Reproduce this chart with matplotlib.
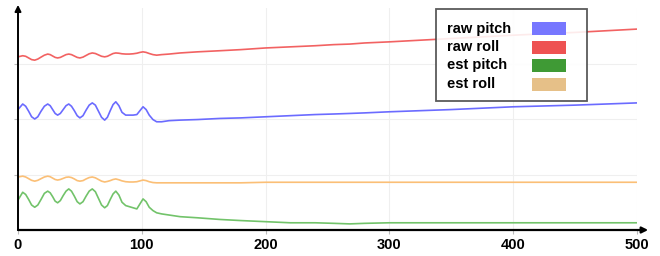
import matplotlib.pyplot as plt
from matplotlib.patches import Rectangle

# sample index (shared by all four series)
x = [0, 3.8, 6.2, 8.6, 11, 13.5, 16, 18.6, 21.3, 24,
     26, 28, 30, 32, 34.2, 36.5, 38.8, 41, 43.2, 45.5,
     47.8, 50, 52.5, 55, 57.5, 60, 62.5, 65, 67.5, 70,
     72.2, 74.5, 76.8, 79, 81.5, 84, 87, 90, 93, 96,
     98.5, 101, 103.5, 106, 109, 112, 116, 122, 131, 145,
     163, 180, 200, 220, 240, 255, 268, 280, 300, 350,
     400, 450, 500]

raw_pitch = [2.17, 2.27, 2.23, 2.14, 2.04, 2.00, 2.04, 2.14, 2.23, 2.27,
             2.24, 2.17, 2.10, 2.07, 2.10, 2.17, 2.24, 2.27, 2.23, 2.15,
             2.06, 2.02, 2.06, 2.16, 2.25, 2.29, 2.25, 2.14, 2.03, 1.98,
             2.03, 2.15, 2.26, 2.31, 2.24, 2.12, 2.07, 2.07, 2.07, 2.08,
             2.15, 2.22, 2.17, 2.07, 1.99, 1.95, 1.95, 1.97, 1.98, 1.99,
             2.01, 2.02, 2.04, 2.06, 2.08, 2.09, 2.10, 2.11, 2.13, 2.17,
             2.22, 2.25, 2.29]

raw_roll = [3.12, 3.14, 3.13, 3.10, 3.07, 3.06, 3.08, 3.115, 3.15, 3.17,
            3.16, 3.135, 3.11, 3.10, 3.11, 3.135, 3.16, 3.17, 3.16, 3.135,
            3.11, 3.10, 3.115, 3.145, 3.175, 3.19, 3.18, 3.155, 3.13, 3.12,
            3.13, 3.155, 3.18, 3.19, 3.185, 3.175, 3.17, 3.17, 3.175, 3.185,
            3.20, 3.21, 3.20, 3.18, 3.16, 3.15, 3.16, 3.17, 3.19, 3.21,
            3.23, 3.25, 3.28, 3.30, 3.32, 3.34, 3.35, 3.37, 3.39, 3.45,
            3.51, 3.56, 3.62]

est_pitch = [0.54, 0.68, 0.64, 0.55, 0.45, 0.41, 0.45, 0.55, 0.66, 0.70,
             0.67, 0.60, 0.52, 0.49, 0.53, 0.62, 0.70, 0.74, 0.70, 0.61,
             0.51, 0.47, 0.51, 0.61, 0.70, 0.74, 0.69, 0.57, 0.45, 0.40,
             0.44, 0.55, 0.65, 0.70, 0.63, 0.50, 0.44, 0.42, 0.40, 0.38,
             0.47, 0.56, 0.51, 0.41, 0.35, 0.31, 0.29, 0.27, 0.24, 0.22,
             0.19, 0.17, 0.15, 0.13, 0.13, 0.12, 0.11, 0.12, 0.13, 0.13,
             0.13, 0.13, 0.13]

est_roll = [0.955, 0.97, 0.955, 0.925, 0.895, 0.88, 0.895, 0.925, 0.955, 0.97,
            0.96, 0.935, 0.91, 0.90, 0.91, 0.93, 0.95, 0.955, 0.945, 0.92,
            0.89, 0.88, 0.89, 0.92, 0.945, 0.955, 0.94, 0.91, 0.88, 0.865,
            0.875, 0.89, 0.91, 0.92, 0.905, 0.885, 0.87, 0.865, 0.865, 0.87,
            0.885, 0.90, 0.89, 0.87, 0.855, 0.85, 0.85, 0.85, 0.85, 0.85,
            0.85, 0.85, 0.86, 0.86, 0.86, 0.86, 0.86, 0.86, 0.86, 0.86,
            0.86, 0.86, 0.86]

labels = ['raw pitch', 'raw roll', 'est pitch', 'est roll']
line_colors = ['#6b6bff', '#f26262', '#72c36a', '#fbbf76']
key_colors = ['#7777ff', '#ee5252', '#3f9a35', '#e6c088']
series = [raw_pitch, raw_roll, est_pitch, est_roll]

plt.rcParams['font.family'] = ['Liberation Sans', 'DejaVu Sans']

W, H = 660, 256
fig = plt.figure(figsize=(6.6, 2.56), dpi=100)
ax = fig.add_axes([18 / W, 1 - 230 / H, 619 / W, 222 / H])

for y, c in zip(series, line_colors):
    ax.plot(x, y, color=c, lw=1.2)

ax.set_xlim(0, 500)
ax.set_ylim(0, 4)
ax.set_xticks([0, 100, 200, 300, 400, 500])
ax.set_yticks([1, 2, 3])
ax.set_yticklabels([])
ax.grid(True, color='#efefef', lw=0.8)
for s in ax.spines.values():
    s.set_visible(False)
ax.tick_params(axis='both', length=3, color='#bbbbbb', width=0.8)
ax.tick_params(axis='x', pad=3)
for t in ax.get_xticklabels():
    t.set_fontweight('bold')
    t.set_fontsize(10.5)

# axis arrows
ax.annotate('', xy=(1.018, 0), xytext=(0, 0), xycoords='axes fraction',
            arrowprops=dict(arrowstyle='-|>', lw=1.6, color='black', mutation_scale=9,
                            shrinkA=0, shrinkB=0), annotation_clip=False)
ax.annotate('', xy=(0, 1.014), xytext=(0, 0), xycoords='axes fraction',
            arrowprops=dict(arrowstyle='-|>', lw=1.4, color='black', mutation_scale=9,
                            shrinkA=0, shrinkB=0), annotation_clip=False)

# legend box, text on the left and colour keys on the right
def fx(px):
    return px / W

def fy(py):
    return 1 - py / H

fig.patches.append(Rectangle((fx(436), fy(101)), fx(151), 92 / H, transform=fig.transFigure,
                             facecolor='white', edgecolor='#444444', lw=1.3, alpha=0.88, zorder=5))
rows = [28.5, 47, 65.5, 84.5]
for lab, kc, ry in zip(labels, key_colors, rows):
    fig.text(fx(447), fy(ry), lab, fontsize=10.5, fontweight='bold', va='center', ha='left', zorder=6)
    fig.patches.append(Rectangle((fx(532), fy(ry + 6.5)), fx(34), 13 / H, transform=fig.transFigure,
                                 facecolor=kc, edgecolor='none', zorder=6))

plt.savefig('out.png', dpi=100)
